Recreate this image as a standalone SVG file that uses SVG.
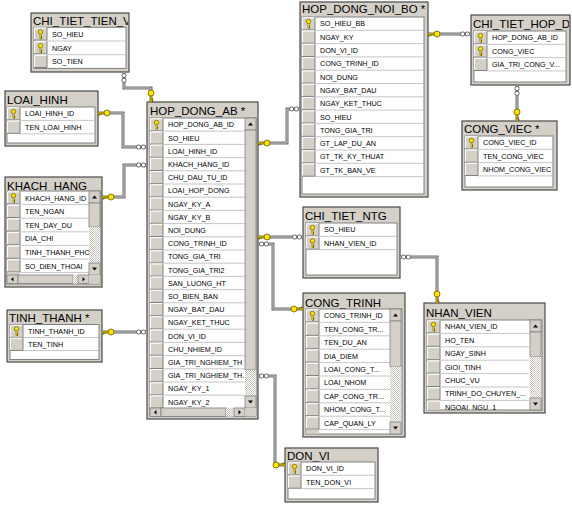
<svg xmlns="http://www.w3.org/2000/svg" xmlns:xlink="http://www.w3.org/1999/xlink" width="572" height="508" viewBox="0 0 572 508">
<style>
.fr{fill:#d4d0c8;stroke:#4a4a4a;stroke-width:1.2}
.pn{fill:#fff;stroke:#808080;stroke-width:1}
.sp{stroke:#b8b8b8;stroke-width:0.8;fill:none}
.t{font-family:"Liberation Sans",Arial,sans-serif;font-size:11.5px;fill:#000}
.c{font-family:"Liberation Sans",Arial,sans-serif;font-size:7.2px;fill:#000}
.ln{fill:none;stroke:#6e6e6e;stroke-width:3}
.li{fill:none;stroke:#c8c8c8;stroke-width:1}
.th{fill:#d4d0c8;stroke:#808080;stroke-width:0.8}
.ck{fill:url(#chk)}
</style>
<defs>
<pattern id="chk" width="2" height="2" patternUnits="userSpaceOnUse"><rect width="2" height="2" fill="#fff"/><rect width="1" height="1" fill="#c8c4bc"/><rect x="1" y="1" width="1" height="1" fill="#c8c4bc"/></pattern>
<g id="kb"><rect width="13" height="12.6" fill="#d4d0c8"/><path d="M0.5 12.1V0.5H12.5" fill="none" stroke="#fff"/><path d="M0 12.6H13V0" fill="none" stroke="#808080"/></g>
<g id="rk"><path d="M0 0v4.6M0 2.6h1.6M0 4.2h1.4" stroke="#6a5a00" stroke-width="1.6" fill="none"/><path d="M0 0v4.4" stroke="#ffe400" stroke-width="0.8"/><circle cx="0" cy="-2.2" r="2.2" fill="#ffe400" stroke="#6a5a00" stroke-width="0.7"/></g>
<g id="ck"><path d="M-9 0H-3M-8 0v2.4M-6 0v1.8" stroke="#7a6a00" stroke-width="1.8" fill="none"/><path d="M-9 0H-3" stroke="#ffe400" stroke-width="0.8"/><circle r="3" fill="#ffe400" stroke="#6a5a00" stroke-width="0.8"/></g>
<g id="inf"><circle cx="-2.4" cy="0" r="2.1" fill="#fff" stroke="#505050" stroke-width="0.8"/><circle cx="2.4" cy="0" r="2.1" fill="#fff" stroke="#505050" stroke-width="0.8"/></g>
<g id="su"><rect width="11" height="12" fill="#d4d0c8" stroke="#808080" stroke-width="0.8"/><path d="M3 7.5h5l-2.5-3z" fill="#000"/></g>
<g id="sd"><rect width="11" height="12" fill="#d4d0c8" stroke="#808080" stroke-width="0.8"/><path d="M3 4.5h5l-2.5 3z" fill="#000"/></g>
<g id="sl"><rect width="11" height="8.5" fill="#d4d0c8" stroke="#808080" stroke-width="0.8"/><path d="M6.5 2v4.5l-2.5-2.25z" fill="#000"/></g>
<g id="sr"><rect width="11" height="8.5" fill="#d4d0c8" stroke="#808080" stroke-width="0.8"/><path d="M4.5 2v4.5l2.5-2.25z" fill="#000"/></g>
<clipPath id="cA"><rect x="31" y="13" width="97" height="59"/></clipPath>
<clipPath id="cF"><rect x="471" y="15" width="98" height="70"/></clipPath>
<clipPath id="cC"><rect x="20" y="191" width="69" height="84"/></clipPath>
<clipPath id="cD"><rect x="164" y="118" width="81" height="290"/></clipPath>
<clipPath id="cI"><rect x="319" y="309" width="71" height="125"/></clipPath>
<clipPath id="cJ"><rect x="440" y="320" width="89" height="90"/></clipPath>
</defs>
<rect width="572" height="508" fill="#fff"/>

<g id="chi_tiet_tien_v">
<rect class="fr" x="31" y="13" width="98" height="59"/>
<text class="t" x="33" y="24.5" clip-path="url(#cA)">CHI_TIET_TIEN_V</text>
<rect class="pn" x="34" y="27.3" width="92" height="41.1"/>
<use href="#kb" x="34" y="27.5"/><use href="#kb" x="34" y="41.2"/><use href="#kb" x="34" y="54.9"/>
<path class="sp" d="M47 41H126M47 54.7H126"/>
<use href="#rk" x="40.5" y="34.2"/><use href="#rk" x="40.5" y="47.9"/>
<text class="c" x="52" y="36.9">SO_HIEU</text>
<text class="c" x="52" y="50.6">NGAY</text>
<text class="c" x="52" y="64.3">SO_TIEN</text>
</g>

<g id="loai_hinh">
<rect class="fr" x="5" y="91" width="93" height="55"/>
<text class="t" x="7" y="103.5">LOAI_HINH</text>
<rect class="pn" x="7" y="107" width="88" height="36"/>
<use href="#kb" x="7" y="107.3"/><use href="#kb" x="7" y="120.7"/>
<path class="sp" d="M20 120.4H95M20 133.8H95"/>
<use href="#rk" x="13.5" y="113.7"/>
<text class="c" x="25" y="116.4">LOAI_HINH_ID</text>
<text class="c" x="25" y="129.8">TEN_LOAI_HINH</text>
</g>

<g id="khach_hang">
<rect class="fr" x="5" y="177" width="97" height="110"/>
<text class="t" x="7" y="190">KHACH_HANG</text>
<rect class="pn" x="7" y="191" width="93" height="93"/>
<use href="#kb" x="7" y="191.3"/><use href="#kb" x="7" y="204.9"/><use href="#kb" x="7" y="218.5"/><use href="#kb" x="7" y="232.1"/><use href="#kb" x="7" y="245.7"/><use href="#kb" x="7" y="259.3"/>
<rect x="7" y="272.9" width="13" height="2.1" fill="#d4d0c8"/>
<path class="sp" d="M20 204.6H89M20 218.2H89M20 231.8H89M20 245.4H89M20 259H89M20 272.6H89"/>
<use href="#rk" x="13.5" y="197.8"/>
<g clip-path="url(#cC)">
<text class="c" x="25" y="200.5">KHACH_HANG_ID</text>
<text class="c" x="25" y="214.1">TEN_NGAN</text>
<text class="c" x="25" y="227.7">TEN_DAY_DU</text>
<text class="c" x="25" y="241.3">DIA_CHI</text>
<text class="c" x="25" y="254.9">TINH_THANH_PHO</text>
<text class="c" x="25" y="268.5">SO_DIEN_THOAI</text>
</g>
<use href="#su" x="89" y="191"/><rect class="th" x="89" y="203" width="11" height="24"/><rect class="ck" x="89" y="227" width="11" height="36"/><use href="#sd" x="89" y="263"/>
<use href="#sl" x="7" y="275"/><rect class="th" x="18" y="275" width="55" height="8.5"/><rect class="ck" x="73" y="275" width="5" height="8.5"/><use href="#sr" x="78" y="275"/><rect x="89" y="275" width="11" height="8.5" fill="#d4d0c8"/>
</g>

<g id="hop_dong_ab">
<rect class="fr" x="147" y="102" width="111" height="317"/>
<text class="t" x="150" y="114.5">HOP_DONG_AB *</text>
<rect class="pn" x="150" y="118" width="106" height="298"/>
<use href="#kb" x="150" y="118.3"/><use href="#kb" x="150" y="131.5"/><use href="#kb" x="150" y="144.7"/><use href="#kb" x="150" y="157.9"/><use href="#kb" x="150" y="171.1"/><use href="#kb" x="150" y="184.3"/><use href="#kb" x="150" y="197.5"/><use href="#kb" x="150" y="210.7"/><use href="#kb" x="150" y="223.9"/><use href="#kb" x="150" y="237.1"/><use href="#kb" x="150" y="250.3"/><use href="#kb" x="150" y="263.5"/><use href="#kb" x="150" y="276.7"/><use href="#kb" x="150" y="289.9"/><use href="#kb" x="150" y="303.1"/><use href="#kb" x="150" y="316.3"/><use href="#kb" x="150" y="329.5"/><use href="#kb" x="150" y="342.7"/><use href="#kb" x="150" y="355.9"/><use href="#kb" x="150" y="369.1"/><use href="#kb" x="150" y="382.3"/><use href="#kb" x="150" y="395.5"/>
<path class="sp" d="M163 131.2H245M163 144.4H245M163 157.6H245M163 170.8H245M163 184H245M163 197.2H245M163 210.4H245M163 223.6H245M163 236.8H245M163 250H245M163 263.2H245M163 276.4H245M163 289.6H245M163 302.8H245M163 316H245M163 329.2H245M163 342.4H245M163 355.6H245M163 368.8H245M163 382H245M163 395.2H245M163 408.4H245"/>
<use href="#rk" x="156.5" y="124.6"/>
<g clip-path="url(#cD)">
<text class="c" x="168" y="127.3">HOP_DONG_AB_ID</text>
<text class="c" x="168" y="140.5">SO_HIEU</text>
<text class="c" x="168" y="153.7">LOAI_HINH_ID</text>
<text class="c" x="168" y="166.9">KHACH_HANG_ID</text>
<text class="c" x="168" y="180.1">CHU_DAU_TU_ID</text>
<text class="c" x="168" y="193.3">LOAI_HOP_DONG</text>
<text class="c" x="168" y="206.5">NGAY_KY_A</text>
<text class="c" x="168" y="219.7">NGAY_KY_B</text>
<text class="c" x="168" y="232.9">NOI_DUNG</text>
<text class="c" x="168" y="246.1">CONG_TRINH_ID</text>
<text class="c" x="168" y="259.3">TONG_GIA_TRI</text>
<text class="c" x="168" y="272.5">TONG_GIA_TRI2</text>
<text class="c" x="168" y="285.7">SAN_LUONG_HT</text>
<text class="c" x="168" y="298.9">SO_BIEN_BAN</text>
<text class="c" x="168" y="312.1">NGAY_BAT_DAU</text>
<text class="c" x="168" y="325.3">NGAY_KET_THUC</text>
<text class="c" x="168" y="338.5">DON_VI_ID</text>
<text class="c" x="168" y="351.7">CHU_NHIEM_ID</text>
<text class="c" x="168" y="364.9">GIA_TRI_NGHIEM_TH</text>
<text class="c" x="168" y="378.1">GIA_TRI_NGHIEM_TH.</text>
<text class="c" x="168" y="391.3">NGAY_KY_1</text>
<text class="c" x="168" y="404.5">NGAY_KY_2</text>
</g>
<use href="#su" x="245" y="118"/><rect class="th" x="245" y="130" width="11" height="240"/><rect class="ck" x="245" y="370" width="11" height="26"/><use href="#sd" x="245" y="396"/>
<use href="#sl" x="150" y="408"/><rect class="th" x="161" y="408" width="65" height="8.5"/><rect class="ck" x="226" y="408" width="8" height="8.5"/><use href="#sr" x="234" y="408"/><rect x="245" y="408" width="11" height="8" fill="#d4d0c8"/>
</g>

<g id="hop_dong_noi_bo">
<rect class="fr" x="300" y="2" width="128" height="195"/>
<text class="t" x="302" y="13">HOP_DONG_NOI_BO *</text>
<rect class="pn" x="302" y="17" width="122" height="177"/>
<use href="#kb" x="302" y="17.3"/><use href="#kb" x="302" y="30.6"/><use href="#kb" x="302" y="43.9"/><use href="#kb" x="302" y="57.2"/><use href="#kb" x="302" y="70.5"/><use href="#kb" x="302" y="83.8"/><use href="#kb" x="302" y="97.1"/><use href="#kb" x="302" y="110.4"/><use href="#kb" x="302" y="123.7"/><use href="#kb" x="302" y="137"/><use href="#kb" x="302" y="150.3"/><use href="#kb" x="302" y="163.6"/>
<path class="sp" d="M315 30.3H424M315 43.6H424M315 56.9H424M315 70.2H424M315 83.5H424M315 96.8H424M315 110.1H424M315 123.4H424M315 136.7H424M315 150H424M315 163.3H424M315 176.6H424"/>
<use href="#rk" x="308.5" y="23.7"/>
<text class="c" x="320" y="26.4">SO_HIEU_BB</text>
<text class="c" x="320" y="39.7">NGAY_KY</text>
<text class="c" x="320" y="53">DON_VI_ID</text>
<text class="c" x="320" y="66.3">CONG_TRINH_ID</text>
<text class="c" x="320" y="79.6">NOI_DUNG</text>
<text class="c" x="320" y="92.9">NGAY_BAT_DAU</text>
<text class="c" x="320" y="106.2">NGAY_KET_THUC</text>
<text class="c" x="320" y="119.5">SO_HIEU</text>
<text class="c" x="320" y="132.8">TONG_GIA_TRI</text>
<text class="c" x="320" y="146.1">GT_LAP_DU_AN</text>
<text class="c" x="320" y="159.4">GT_TK_KY_THUAT</text>
<text class="c" x="320" y="172.7">GT_TK_BAN_VE</text>
</g>

<g id="chi_tiet_hop_d">
<rect class="fr" x="471" y="15" width="99" height="70"/>
<text class="t" x="473" y="28" clip-path="url(#cF)">CHI_TIET_HOP_D</text>
<rect class="pn" x="474" y="31" width="92" height="51"/>
<use href="#kb" x="474" y="31.3"/><use href="#kb" x="474" y="44.6"/><use href="#kb" x="474" y="57.9"/>
<path class="sp" d="M487 44.3H566M487 57.6H566M487 70.9H566"/>
<use href="#rk" x="480.5" y="37.7"/><use href="#rk" x="480.5" y="51"/>
<text class="c" x="492" y="40.4">HOP_DONG_AB_ID</text>
<text class="c" x="492" y="53.7">CONG_VIEC</text>
<text class="c" x="492" y="67">GIA_TRI_CONG_V...</text>
</g>

<g id="cong_viec">
<rect class="fr" x="462" y="121" width="95" height="69"/>
<text class="t" x="464" y="132.5">CONG_VIEC *</text>
<rect class="pn" x="465" y="136" width="88" height="51"/>
<use href="#kb" x="465" y="136.3"/><use href="#kb" x="465" y="149.6"/><use href="#kb" x="465" y="162.9"/>
<path class="sp" d="M478 149.3H553M478 162.6H553M478 175.9H553"/>
<use href="#rk" x="471.5" y="142.7"/>
<text class="c" x="483" y="145.4">CONG_VIEC_ID</text>
<text class="c" x="483" y="158.7">TEN_CONG_VIEC</text>
<text class="c" x="483" y="172">NHOM_CONG_VIEC</text>
</g>

<g id="chi_tiet_ntg">
<rect class="fr" x="303" y="207" width="97" height="71"/>
<text class="t" x="305" y="220">CHI_TIET_NTG</text>
<rect class="pn" x="306" y="223" width="91" height="52"/>
<use href="#kb" x="306" y="223.3"/><use href="#kb" x="306" y="236.6"/>
<path class="sp" d="M319 236.3H397M319 249.6H397"/>
<use href="#rk" x="312.5" y="229.7"/><use href="#rk" x="312.5" y="243"/>
<text class="c" x="324" y="232.4">SO_HIEU</text>
<text class="c" x="324" y="245.7">NHAN_VIEN_ID</text>
</g>

<g id="cong_trinh">
<rect class="fr" x="303" y="293" width="102" height="144"/>
<text class="t" x="305" y="306.5">CONG_TRINH</text>
<rect class="pn" x="306" y="309" width="96" height="125"/>
<use href="#kb" x="306" y="309.3"/><use href="#kb" x="306" y="322.7"/><use href="#kb" x="306" y="336.1"/><use href="#kb" x="306" y="349.5"/><use href="#kb" x="306" y="362.9"/><use href="#kb" x="306" y="376.3"/><use href="#kb" x="306" y="389.7"/><use href="#kb" x="306" y="403.1"/><use href="#kb" x="306" y="416.5"/>
<rect x="306" y="429.9" width="13" height="4" fill="#d4d0c8"/>
<path class="sp" d="M319 322.4H390M319 335.8H390M319 349.2H390M319 362.6H390M319 376H390M319 389.4H390M319 402.8H390M319 416.2H390M319 429.6H390"/>
<use href="#rk" x="312.5" y="315.7"/>
<g clip-path="url(#cI)">
<text class="c" x="324" y="318.4">CONG_TRINH_ID</text>
<text class="c" x="324" y="331.8">TEN_CONG_TR...</text>
<text class="c" x="324" y="345.2">TEN_DU_AN</text>
<text class="c" x="324" y="358.6">DIA_DIEM</text>
<text class="c" x="324" y="372">LOAI_CONG_T...</text>
<text class="c" x="324" y="385.4">LOAI_NHOM</text>
<text class="c" x="324" y="398.8">CAP_CONG_TR...</text>
<text class="c" x="324" y="412.2">NHOM_CONG_T...</text>
<text class="c" x="324" y="425.6">CAP_QUAN_LY</text>
</g>
<use href="#su" x="390" y="309"/><rect class="th" x="390" y="321" width="11" height="46"/><rect class="ck" x="390" y="367" width="11" height="55"/><use href="#sd" x="390" y="422"/>
</g>

<g id="nhan_vien">
<rect class="fr" x="424" y="303" width="121" height="110"/>
<text class="t" x="426" y="317">NHAN_VIEN</text>
<rect class="pn" x="427" y="320" width="115" height="90"/>
<use href="#kb" x="427" y="320.3"/><use href="#kb" x="427" y="333.7"/><use href="#kb" x="427" y="347.1"/><use href="#kb" x="427" y="360.5"/><use href="#kb" x="427" y="373.9"/><use href="#kb" x="427" y="387.3"/>
<rect x="427" y="400.7" width="13" height="9.3" fill="#d4d0c8"/><path d="M427.5 410V401.2H439.5" fill="none" stroke="#fff"/>
<path class="sp" d="M440 333.4H529M440 346.8H529M440 360.2H529M440 373.6H529M440 387H529M440 400.4H529"/>
<use href="#rk" x="433.5" y="326.7"/>
<g clip-path="url(#cJ)">
<text class="c" x="445" y="329.4">NHAN_VIEN_ID</text>
<text class="c" x="445" y="342.8">HO_TEN</text>
<text class="c" x="445" y="356.2">NGAY_SINH</text>
<text class="c" x="445" y="369.6">GIOI_TINH</text>
<text class="c" x="445" y="383">CHUC_VU</text>
<text class="c" x="445" y="396.4">TRINH_DO_CHUYEN_...</text>
<text class="c" x="445" y="409.8">NGOAI_NGU_1</text>
</g>
<use href="#su" x="530" y="320"/><rect class="th" x="530" y="332" width="11" height="25"/><rect class="ck" x="530" y="357" width="11" height="41"/><use href="#sd" x="530" y="398"/>
</g>

<g id="tinh_thanh">
<rect class="fr" x="7" y="310" width="95" height="52"/>
<text class="t" x="9" y="322">TINH_THANH *</text>
<rect class="pn" x="10" y="324.5" width="89" height="35"/>
<use href="#kb" x="10" y="324.8"/><use href="#kb" x="10" y="337.8"/>
<path class="sp" d="M23 337.5H99M23 350.5H99"/>
<use href="#rk" x="16.5" y="331"/>
<text class="c" x="28" y="333.7">TINH_THANH_ID</text>
<text class="c" x="28" y="346.7">TEN_TINH</text>
</g>

<g id="don_vi">
<rect class="fr" x="285" y="448" width="93" height="54"/>
<text class="t" x="287" y="460">DON_VI</text>
<rect class="pn" x="288" y="462" width="87" height="37"/>
<use href="#kb" x="288" y="462.3"/><use href="#kb" x="288" y="475.6"/>
<path class="sp" d="M301 475.3H375M301 488.6H375"/>
<use href="#rk" x="294.5" y="468.7"/>
<text class="c" x="306" y="471.4">DON_VI_ID</text>
<text class="c" x="306" y="484.7">TEN_DON_VI</text>
</g>

<g id="connectors">
<path class="ln" d="M124 72V88H151V102M98 113H123V147H147M102 197H124V165H147M102 332H147M258 143H287V109H300M428 34H471M517 85V121M258 237H303M258 244H273V309H303M400 257H437V303M258 376H275V465H285"/>
<path class="li" d="M124 72V88H151V102M98 113H123V147H147M102 197H124V165H147M102 332H147M258 143H287V109H300M428 34H471M517 85V121M258 237H303M258 244H273V309H303M400 257H437V303M258 376H275V465H285"/>
<use href="#inf" transform="translate(124 78) rotate(90)"/>
<use href="#inf" transform="translate(141 147)"/>
<use href="#inf" transform="translate(141 165)"/>
<use href="#inf" transform="translate(141 332)"/>
<use href="#inf" transform="translate(294 109)"/>
<use href="#inf" transform="translate(465 34)"/>
<use href="#inf" transform="translate(517 91) rotate(90)"/>
<use href="#inf" transform="translate(297 237)"/>
<use href="#inf" transform="translate(264 244)"/>
<use href="#inf" transform="translate(264 376)"/>
<use href="#inf" transform="translate(406 257)"/>
<use href="#ck" transform="translate(151 93) rotate(-90)"/>
<use href="#ck" transform="translate(107 113)"/>
<use href="#ck" transform="translate(111 197)"/>
<use href="#ck" transform="translate(111 332)"/>
<use href="#ck" transform="translate(267 143)"/>
<use href="#ck" transform="translate(267 237)"/>
<use href="#ck" transform="translate(437 34)"/>
<use href="#ck" transform="translate(294 309) rotate(180)"/>
<use href="#ck" transform="translate(276 465) rotate(180)"/>
<use href="#ck" transform="translate(517 112) rotate(-90)"/>
<use href="#ck" transform="translate(437 294) rotate(-90)"/>
</g>
</svg>
